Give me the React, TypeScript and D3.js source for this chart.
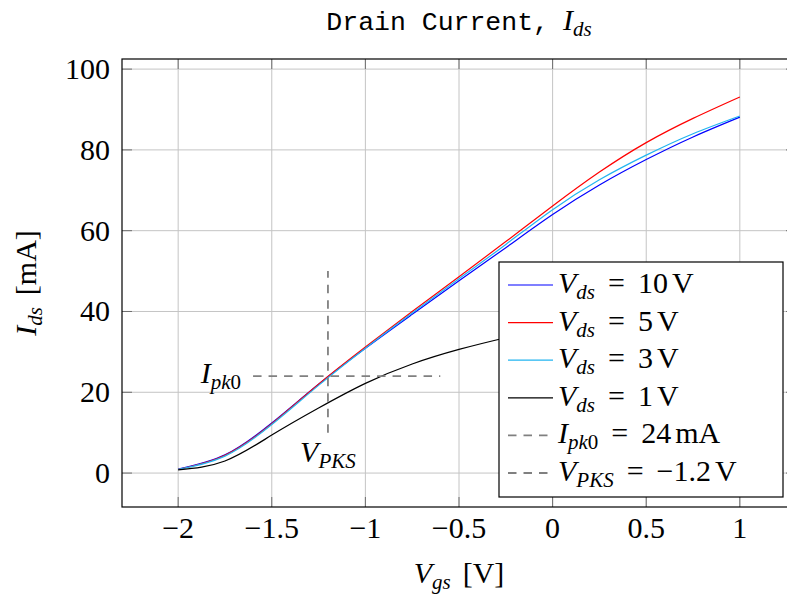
import React from 'react';
import * as d3 from 'd3';

// ---- data ----
const vgs = [-2, -1.75, -1.5, -1.25, -1, -0.75, -0.5, -0.25, 0, 0.25, 0.5, 0.75, 1];
const ids10V = [1.0, 4.5, 12.4, 22.0, 30.9, 39.3, 47.6, 55.8, 64.0, 71.3, 77.6, 83.2, 88.1];
const ids5V = [0.9, 4.4, 12.2, 22.0, 31.2, 40.0, 48.6, 57.3, 66.1, 74.5, 81.8, 87.8, 93.1];
const ids3V = [0.9, 4.2, 12.0, 21.7, 30.9, 39.6, 48.1, 56.6, 65.2, 72.6, 78.7, 84.0, 88.4];
const ids1V = [0.8, 3.0, 9.4, 16.1, 22.2, 27.0, 30.6, 33.5, 36.0, 38.0, 39.6, 40.8, 41.5];
const xTicks = [-2, -1.5, -1, -0.5, 0, 0.5, 1];
const xTickLabels = ['\u22122', '\u22121.5', '\u22121', '\u22120.5', '0', '0.5', '1'];
const yTicks = [0, 20, 40, 60, 80, 100];
const ipk0 = 24;
const vpks = -1.2;
const ipkRange = [-1.6, -0.6];
const vpksRange = [10, 50];

const seriesNames = ['10', '5', '3', '1'];
const seriesColors = ['#0000ff', '#ff0000', '#22b4f0', '#000000'];
const seriesValues = [ids10V, ids5V, ids3V, ids1V];

const SERIF = '"Liberation Serif", "DejaVu Serif", serif';
const MONO = '"Liberation Mono", "DejaVu Sans Mono", monospace';
const FS = 30;
const SUB = 21;

export default function App() {
  const W = 787, H = 599;
  const left = 122, right = 796, top = 59, bottom = 507;
  const x = d3.scaleLinear().domain([-2.3, 1.3]).range([left, right]);
  const y = d3.scaleLinear().domain([-8.4, 102.5]).range([bottom, top]);
  const line = d3.line<[number, number]>()
    .x(d => x(d[0]))
    .y(d => y(d[1]))
    .curve(d3.curveNatural);

  const gridColor = '#c4c4c4';
  const tickColor = '#6e6e6e';
  const dashColor = '#808080';
  const tickLen = 10;

  const legendX = 499, legendY = 262, legendW = 284, legendH = 235;
  const rowY = (i: number) => 285 + i * 37.6;
  const EQ = 13;
  const UNIT = 4;

  return (
    <svg width={W} height={H} style={{ position: 'absolute', left: 0, top: 0 }}
      fontFamily={SERIF} fontSize={FS}>
      <rect x={0} y={0} width={W} height={H} fill="#fff" />
      {/* grid */}
      {xTicks.map(t => (
        <line key={'gx' + t} x1={x(t)} x2={x(t)} y1={top} y2={bottom} stroke={gridColor} strokeWidth={1} />
      ))}
      {yTicks.map(t => (
        <line key={'gy' + t} x1={left} x2={right} y1={y(t)} y2={y(t)} stroke={gridColor} strokeWidth={1} />
      ))}
      {/* ticks */}
      {xTicks.map(t => (
        <g key={'tx' + t} stroke={tickColor} strokeWidth={1}>
          <line x1={x(t)} x2={x(t)} y1={bottom} y2={bottom - tickLen} />
          <line x1={x(t)} x2={x(t)} y1={top} y2={top + tickLen} />
        </g>
      ))}
      {yTicks.map(t => (
        <g key={'ty' + t} stroke={tickColor} strokeWidth={1}>
          <line x1={left} x2={left + tickLen} y1={y(t)} y2={y(t)} />
          <line x1={right} x2={right - tickLen} y1={y(t)} y2={y(t)} />
        </g>
      ))}
      {/* curves */}
      {seriesValues.map((vals, i) => (
        <path key={'s' + i}
          d={line(vgs.map((v, j) => [v, vals[j]] as [number, number])) || ''}
          fill="none" stroke={seriesColors[i]} strokeWidth={1.2} />
      ))}
      {/* dashed markers */}
      <line x1={x(ipkRange[0])} x2={x(ipkRange[1])} y1={y(ipk0)} y2={y(ipk0)}
        stroke={dashColor} strokeWidth={1.8} strokeDasharray="8.5,7" />
      <line x1={x(vpks)} x2={x(vpks)} y1={y(vpksRange[0])} y2={y(vpksRange[1])}
        stroke={dashColor} strokeWidth={1.8} strokeDasharray="8.5,7" />
      <text x={x(ipkRange[0]) - 12} y={y(ipk0) + 7} textAnchor="end">
        <tspan fontStyle="italic">I</tspan>
        <tspan fontStyle="italic" fontSize={SUB} dy={6}>pk</tspan>
        <tspan fontSize={SUB}>0</tspan>
      </text>
      <text x={x(vpks)} y={462} textAnchor="middle">
        <tspan fontStyle="italic">V</tspan>
        <tspan fontStyle="italic" fontSize={SUB} dy={6}>PKS</tspan>
      </text>
      {/* frame */}
      <rect x={left} y={top} width={right - left} height={bottom - top} fill="none" stroke="#000" strokeWidth={1.2} />
      {/* tick labels */}
      {xTicks.map((t, i) => (
        <text key={'lx' + t} x={x(t)} y={538} textAnchor="middle">{xTickLabels[i]}</text>
      ))}
      {yTicks.map(t => (
        <text key={'ly' + t} x={110} y={y(t) + 10} textAnchor="end">{t}</text>
      ))}
      {/* axis labels */}
      <text x={(left + right) / 2} y={583} textAnchor="middle">
        <tspan fontStyle="italic">V</tspan>
        <tspan fontStyle="italic" fontSize={SUB} dy={6}>gs</tspan>
        <tspan dy={-6} dx={12}>[V]</tspan>
      </text>
      <text transform={`translate(36, ${(top + bottom) / 2}) rotate(-90)`} textAnchor="middle">
        <tspan fontStyle="italic">I</tspan>
        <tspan fontStyle="italic" fontSize={SUB} dy={6}>ds</tspan>
        <tspan dy={-6} dx={12}>[mA]</tspan>
      </text>
      {/* title */}
      <text x={(left + right) / 2} y={30} textAnchor="middle">
        <tspan fontFamily={MONO} fontSize={26.5}>Drain Current,</tspan>
        <tspan fontStyle="italic" dx={14}>I</tspan>
        <tspan fontStyle="italic" fontSize={SUB} dy={6}>ds</tspan>
      </text>
      {/* legend */}
      <rect x={legendX} y={legendY} width={legendW} height={legendH} fill="#fff" stroke="#000" strokeWidth={1.2} />
      {seriesNames.map((n, i) => (
        <g key={'lg' + i}>
          <line x1={508} x2={553} y1={rowY(i)} y2={rowY(i)} stroke={seriesColors[i]} strokeWidth={1.2} />
          <text x={558} y={rowY(i) + 8}>
            <tspan fontStyle="italic">V</tspan>
            <tspan fontStyle="italic" fontSize={SUB} dy={6}>ds</tspan>
            <tspan dy={-6} dx={EQ}>=</tspan>
            <tspan dx={EQ}>{n}</tspan>
            <tspan dx={UNIT}>V</tspan>
          </text>
        </g>
      ))}
      <g>
        <line x1={508} x2={553} y1={rowY(4)} y2={rowY(4)} stroke={dashColor} strokeWidth={1.8} strokeDasharray="8.5,7" />
        <text x={558} y={rowY(4) + 8}>
          <tspan fontStyle="italic">I</tspan>
          <tspan fontStyle="italic" fontSize={SUB} dy={6}>pk</tspan>
          <tspan fontSize={SUB}>0</tspan>
          <tspan dy={-6} dx={EQ}>=</tspan>
          <tspan dx={EQ}>24</tspan>
          <tspan dx={UNIT}>mA</tspan>
        </text>
      </g>
      <g>
        <line x1={508} x2={553} y1={rowY(5)} y2={rowY(5)} stroke={dashColor} strokeWidth={1.8} strokeDasharray="8.5,7" />
        <text x={558} y={rowY(5) + 8}>
          <tspan fontStyle="italic">V</tspan>
          <tspan fontStyle="italic" fontSize={SUB} dy={6}>PKS</tspan>
          <tspan dy={-6} dx={EQ}>=</tspan>
          <tspan dx={EQ}>{'\u22121.2'}</tspan>
          <tspan dx={UNIT}>V</tspan>
        </text>
      </g>
    </svg>
  );
}
